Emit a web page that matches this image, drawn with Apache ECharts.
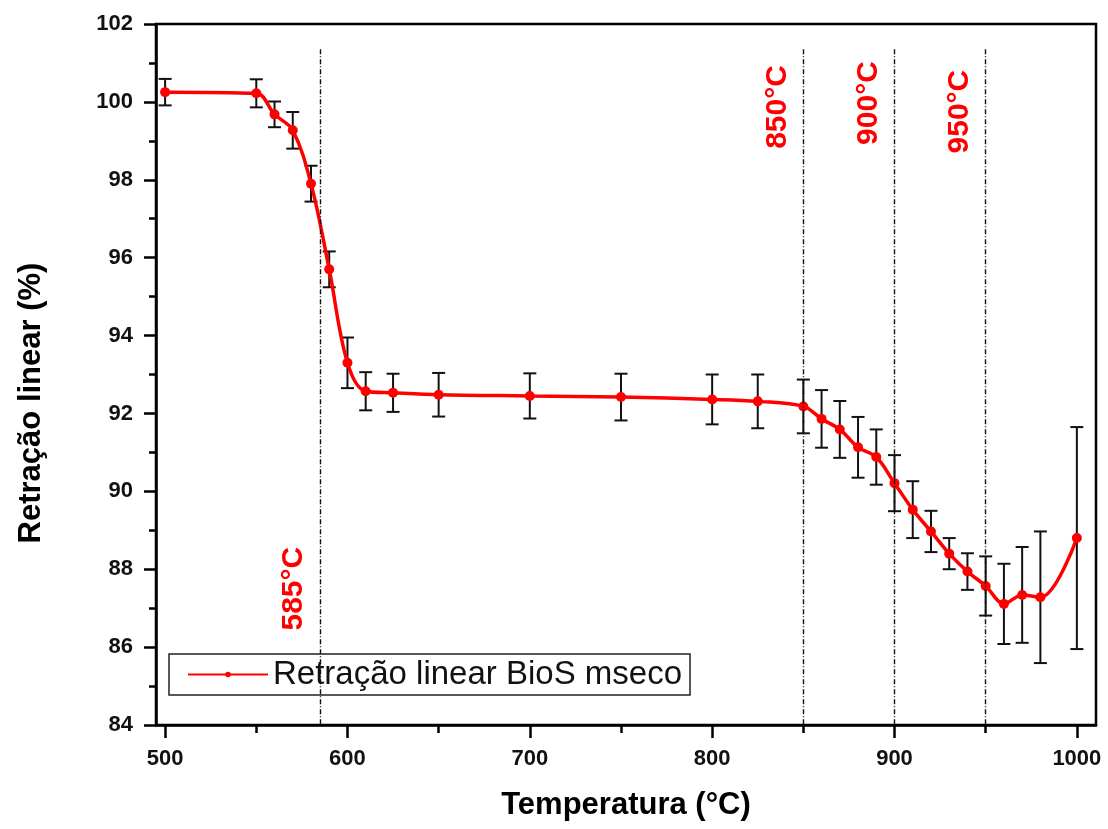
<!DOCTYPE html>
<html>
<head>
<meta charset="utf-8">
<script src="https://cdn.jsdelivr.net/npm/echarts@6/dist/echarts.min.js"></script>
<style>
  html, body { margin: 0; padding: 0; background: #fff; }
  #main { width: 1108px; height: 829px; }
</style>
</head>
<body>
<div id="main"></div>
<script>
// temperatures (°C) and linear shrinkage (%) with error bars
var temps = [500, 550, 560, 570, 580, 590, 600, 610, 625, 650, 700, 750, 800, 825, 850, 860, 870, 880, 890, 900, 910, 920, 930, 940, 950, 960, 970, 980, 1000];
var retracao = [100.25, 100.22, 99.68, 99.27, 97.90, 95.70, 93.30, 92.57, 92.53, 92.48, 92.45, 92.42, 92.36, 92.31, 92.18, 91.86, 91.59, 91.13, 90.88, 90.21, 89.53, 88.97, 88.40, 87.94, 87.57, 87.11, 87.34, 87.28, 88.80];
var erro = [0.34, 0.36, 0.33, 0.47, 0.46, 0.46, 0.65, 0.49, 0.49, 0.56, 0.58, 0.60, 0.64, 0.69, 0.69, 0.74, 0.73, 0.78, 0.71, 0.72, 0.73, 0.53, 0.40, 0.47, 0.76, 1.03, 1.23, 1.69, 2.85];

var xTicks = [500, 600, 700, 800, 900, 1000];
var xMinorTicks = [550, 650, 750, 850, 950];

// reference temperatures marked with dash-dot lines
var refTemps = [585, 850, 900, 950];
var refLabels = ['585°C', '850°C', '900°C', '950°C'];
var refLabelY = [87.5, 99.87, 99.97, 99.75];

var serieName = 'Retração linear BioS mseco';

var dom = document.getElementById('main');
var myChart = echarts.init(dom);

var lineData = temps.map(function (t, i) { return [t, retracao[i]]; });
var errData = temps.map(function (t, i) { return [t, retracao[i] - erro[i], retracao[i] + erro[i]]; });

var refLines = refTemps.map(function (t) {
  return [{ coord: [t, 101.35] }, { coord: [t, 84] }];
});

var option = {
  backgroundColor: '#fff',
  animation: false,
  textStyle: { fontFamily: 'Liberation Sans, Arial, sans-serif' },
  grid: {
    left: 156, right: 12, top: 24, bottom: 104,
    show: true, borderColor: '#000', borderWidth: 2.5
  },
  legend: {
    data: [serieName],
    left: 169, top: 654,
    padding: [4, 8, 4, 18],
    borderColor: '#222', borderWidth: 1.5,
    itemWidth: 80, itemHeight: 7,
    textStyle: { fontSize: 33, color: '#111', fontFamily: 'Liberation Sans, Arial, sans-serif' }
  },
  xAxis: [{
    type: 'value',
    min: 495, max: 1010.5,
    name: 'Temperatura (°C)',
    nameLocation: 'middle',
    nameGap: 65,
    nameTextStyle: { fontSize: 31, fontWeight: 'bold', color: '#000' },
    splitLine: { show: false },
    axisLine: { lineStyle: { color: '#000', width: 2.5 } },
    axisTick: { customValues: xTicks, length: 13, lineStyle: { color: '#000', width: 2.5 } },
    axisLabel: {
      customValues: xTicks, margin: 23, fontSize: 22, fontWeight: 'bold', color: '#111',
      formatter: function (v) { return String(v); }
    }
  }, {
    type: 'value',
    min: 495, max: 1010.5,
    position: 'bottom',
    splitLine: { show: false },
    axisLine: { show: false },
    axisTick: { customValues: xMinorTicks, length: 8, lineStyle: { color: '#000', width: 2.5 } },
    axisLabel: { show: false }
  }],
  yAxis: {
    type: 'value',
    min: 84, max: 102, interval: 2,
    splitLine: { show: false },
    axisLine: { lineStyle: { color: '#000', width: 2.5 } },
    axisTick: { length: 12, lineStyle: { color: '#000', width: 2.5 } },
    minorTick: { show: true, splitNumber: 2, length: 7, lineStyle: { color: '#000', width: 2.5 } },
    axisLabel: { margin: 23, fontSize: 22, fontWeight: 'bold', color: '#111' }
  },
  series: [{
    type: 'custom',
    name: 'erro',
    z: 1,
    silent: true,
    data: errData,
    renderItem: function (params, api) {
      var x = api.value(0);
      var lo = api.coord([x, api.value(1)]);
      var hi = api.coord([x, api.value(2)]);
      var cap = 6.5;
      var st = { stroke: '#111', lineWidth: 2 };
      return {
        type: 'group',
        children: [
          { type: 'line', shape: { x1: lo[0], y1: lo[1], x2: hi[0], y2: hi[1] }, style: st },
          { type: 'line', shape: { x1: lo[0] - cap, y1: lo[1], x2: lo[0] + cap, y2: lo[1] }, style: st },
          { type: 'line', shape: { x1: hi[0] - cap, y1: hi[1], x2: hi[0] + cap, y2: hi[1] }, style: st }
        ]
      };
    }
  }, {
    type: 'line',
    name: serieName,
    z: 3,
    data: lineData,
    smooth: 0.35,
    symbol: 'circle',
    symbolSize: 10,
    itemStyle: { color: '#ff0000' },
    lineStyle: { color: '#ff0000', width: 3.5 },
    markLine: {
      silent: true,
      symbol: 'none',
      label: { show: false },
      lineStyle: { color: '#111', width: 1.4, type: [5, 2, 1, 2] },
      data: refLines
    }
  }]
};

myChart.setOption(option);

// text annotations, positioned through the chart's own scales
var graphics = [{
  type: 'text',
  x: 31, y: 403,
  rotation: Math.PI / 2,
  style: {
    text: 'Retração linear (%)',
    fontSize: 31, fontWeight: 'bold', fill: '#000',
    fontFamily: 'Liberation Sans, Arial, sans-serif',
    align: 'center', verticalAlign: 'middle'
  }
}];
refTemps.forEach(function (t, i) {
  var p = myChart.convertToPixel({ gridIndex: 0 }, [t, refLabelY[i]]);
  graphics.push({
    type: 'text',
    x: p[0] - 26, y: p[1],
    rotation: Math.PI / 2,
    style: {
      text: refLabels[i],
      fontSize: 30, fontWeight: 'bold', fill: '#ff0000',
      fontFamily: 'Liberation Sans, Arial, sans-serif',
      align: 'center', verticalAlign: 'middle'
    }
  });
});
myChart.setOption({ graphic: graphics });

window.onresize = function () {
  myChart.resize();
};
</script>
</body>
</html>
